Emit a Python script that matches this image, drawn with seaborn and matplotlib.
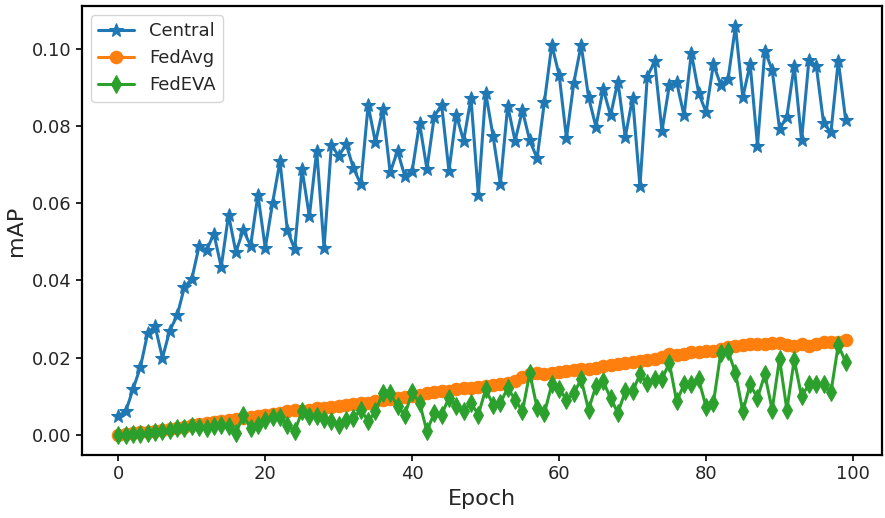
import matplotlib
matplotlib.use("Agg")
import matplotlib.pyplot as plt
import seaborn as sns

epochs = list(range(100))

central = [
    0.0049, 0.0060, 0.0118, 0.0175, 0.0264, 0.0281, 0.0199, 0.0270, 0.0309, 0.0383,
    0.0404, 0.0490, 0.0478, 0.0521, 0.0435, 0.0570, 0.0473, 0.0531, 0.0490, 0.0622,
    0.0484, 0.0602, 0.0709, 0.0530, 0.0481, 0.0689, 0.0566, 0.0737, 0.0484, 0.0752,
    0.0722, 0.0754, 0.0691, 0.0650, 0.0854, 0.0758, 0.0844, 0.0680, 0.0736, 0.0670,
    0.0685, 0.0808, 0.0689, 0.0825, 0.0856, 0.0684, 0.0830, 0.0762, 0.0873, 0.0622,
    0.0887, 0.0775, 0.0650, 0.0853, 0.0762, 0.0841, 0.0763, 0.0717, 0.0864, 0.1011,
    0.0933, 0.0769, 0.0913, 0.1011, 0.0876, 0.0799, 0.0897, 0.0828, 0.0916, 0.0772,
    0.0873, 0.0644, 0.0929, 0.0968, 0.0788, 0.0906, 0.0914, 0.0828, 0.0990, 0.0886,
    0.0836, 0.0961, 0.0907, 0.0923, 0.1059, 0.0875, 0.0961, 0.0750, 0.0996, 0.0946,
    0.0793, 0.0825, 0.0957, 0.0763, 0.0972, 0.0957, 0.0808, 0.0784, 0.0970, 0.0817,
]

fedavg = [
    0.0000, 0.0002, 0.0004, 0.0006, 0.0008, 0.0010, 0.0012, 0.0014, 0.0017, 0.0020,
    0.0024, 0.0028, 0.0030, 0.0033, 0.0036, 0.0039, 0.0040, 0.0042, 0.0045, 0.0048,
    0.0051, 0.0053, 0.0056, 0.0060, 0.0063, 0.0062, 0.0065, 0.0068, 0.0068, 0.0071,
    0.0074, 0.0076, 0.0079, 0.0081, 0.0083, 0.0086, 0.0090, 0.0092, 0.0095, 0.0098,
    0.0101, 0.0104, 0.0107, 0.0110, 0.0113, 0.0114, 0.0117, 0.0120, 0.0121, 0.0124,
    0.0127, 0.0128, 0.0131, 0.0134, 0.0138, 0.0150, 0.0158, 0.0160, 0.0158, 0.0160,
    0.0162, 0.0164, 0.0167, 0.0170, 0.0171, 0.0174, 0.0177, 0.0180, 0.0183, 0.0186,
    0.0188, 0.0190, 0.0193, 0.0197, 0.0201, 0.0210, 0.0206, 0.0210, 0.0213, 0.0215,
    0.0216, 0.0218, 0.0222, 0.0228, 0.0230, 0.0232, 0.0234, 0.0236, 0.0236, 0.0238,
    0.0238, 0.0233, 0.0230, 0.0236, 0.0230, 0.0236, 0.0240, 0.0241, 0.0239, 0.0246,
]

fedeva = [
    0.0000, 0.0000, 0.0001, 0.0002, 0.0003, 0.0006, 0.0009, 0.0012, 0.0016, 0.0017,
    0.0023, 0.0020, 0.0017, 0.0021, 0.0026, 0.0023, 0.0004, 0.0050, 0.0017, 0.0026,
    0.0038, 0.0046, 0.0045, 0.0026, 0.0009, 0.0060, 0.0049, 0.0048, 0.0041, 0.0035,
    0.0026, 0.0039, 0.0043, 0.0065, 0.0035, 0.0060, 0.0108, 0.0108, 0.0073, 0.0052,
    0.0110, 0.0082, 0.0009, 0.0056, 0.0052, 0.0095, 0.0073, 0.0060, 0.0082, 0.0052,
    0.0117, 0.0078, 0.0082, 0.0121, 0.0091, 0.0060, 0.0160, 0.0069, 0.0056, 0.0130,
    0.0118, 0.0091, 0.0108, 0.0143, 0.0065, 0.0125, 0.0138, 0.0095, 0.0056, 0.0112,
    0.0112, 0.0156, 0.0134, 0.0143, 0.0144, 0.0186, 0.0086, 0.0130, 0.0130, 0.0143,
    0.0072, 0.0082, 0.0212, 0.0216, 0.0160, 0.0060, 0.0130, 0.0095, 0.0156, 0.0065,
    0.0196, 0.0065, 0.0194, 0.0099, 0.0130, 0.0130, 0.0130, 0.0110, 0.0233, 0.0188,
]

sns.set_style("ticks")
plt.rcParams["font.family"] = ["DejaVu Sans"]
plt.rcParams["axes.edgecolor"] = "black"
plt.rcParams["axes.linewidth"] = 1.6

colours = sns.color_palette("tab10")

fig = plt.figure(figsize=(8.85, 5.18), dpi=100)
ax = fig.add_axes([82 / 885, 1 - 455 / 518, 800 / 885, 449 / 518])

series = [("Central", central, "*", 10), ("FedAvg", fedavg, "o", 9), ("FedEVA", fedeva, "d", 9)]
for i, (name, vals, mk, ms) in enumerate(series):
    sns.lineplot(x=epochs, y=vals, ax=ax, label=name, color=colours[i],
                 marker=mk, markersize=ms, markeredgecolor=colours[i],
                 linewidth=2.2)

ax.set_xticks([0, 20, 40, 60, 80, 100])
ax.set_yticks([0.00, 0.02, 0.04, 0.06, 0.08, 0.10])
ax.set_yticklabels(["0.00", "0.02", "0.04", "0.06", "0.08", "0.10"])
ax.tick_params(labelsize=13, length=4, width=1.2, color="black")
ax.set_xlabel("Epoch", fontsize=16)
ax.set_ylabel("mAP", fontsize=16)
ax.legend(loc="upper left", fontsize=13, frameon=True)

fig.savefig("out.png", dpi=100)
